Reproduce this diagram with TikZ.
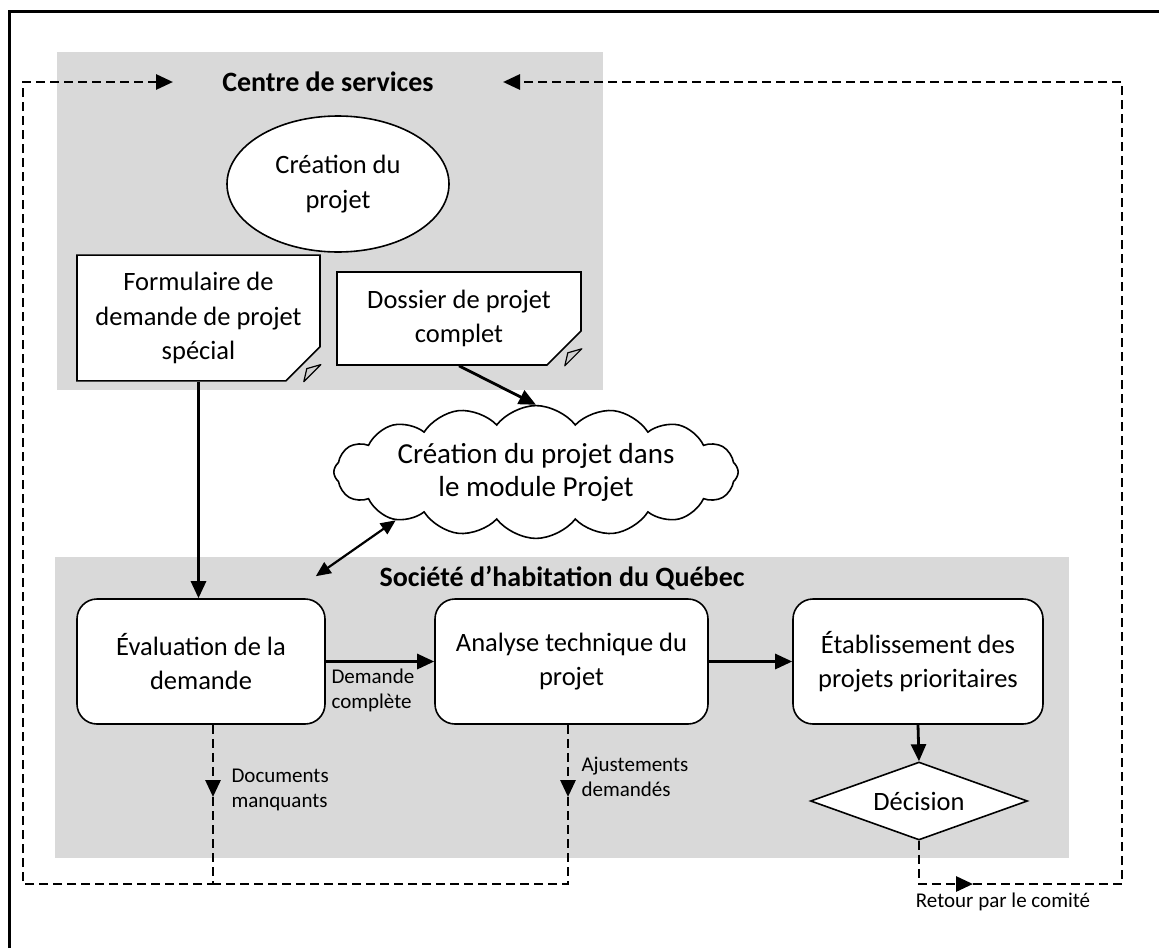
\documentclass[tikz,border=0pt]{standalone}
\usepackage{fontspec}
\setmainfont{Carlito}
\usetikzlibrary{shapes.geometric,shapes.symbols,shapes.misc,arrows.meta,calc,positioning}

\definecolor{zonegray}{HTML}{D9D9D9}
\definecolor{flapgray}{HTML}{D0D0D0}

\begin{document}
\begin{tikzpicture}[x=1pt, y=-1pt,
    txt/.style={font=\fontsize{26.5}{34.5}\selectfont, align=center},
    small/.style={font=\fontsize{21}{25}\selectfont, align=left},
    heading/.style={font=\fontsize{28}{34}\selectfont\bfseries},
    shape line/.style={draw, fill=white, line width=1.6pt, inner sep=0pt},
    procbox/.style={txt, shape line, rounded corners=20pt, minimum height=125pt, minimum width=#1},
    docbox/.style={txt, shape line, chamfered rectangle, chamfered rectangle corners=south east, chamfered rectangle xsep=17pt, chamfered rectangle ysep=17pt},
    flap/.style={fill=flapgray, draw, line width=1.2pt, line join=round},
    arr/.style={-{Triangle[length=17pt,width=15pt]}},
    flow/.style={line width=2.8pt, arr},
    dashline/.style={line width=2.9pt, dash pattern=on 9pt off 5pt}
  ]
    \useasboundingbox (0,0) rectangle (1159,948);

    % Frame
    \draw[line width=3pt] (9,948) -- (9,11) -- (1159,11);

    % Zones
    \fill[zonegray] (57,52) rectangle (603,390);
    \fill[zonegray] (55,557) rectangle (1069,858);

    % Titles
    \node[heading] (csTitle) at (328,82) {Centre de services};
    \node[heading] (shqTitle) at (562,578) {Société d’habitation du Québec};

    % Centre de services
    \node[ellipse, txt, shape line, minimum width=222pt, minimum height=136pt] (creation) at (338,184) {Création du\\projet};
    \node[docbox, minimum width=243pt, minimum height=118pt] (form) at (198.5,318) {Formulaire de\\demande de projet\\spécial};
    \node[docbox, minimum width=244pt, minimum height=93pt] (doss) at (459,318.5) {Dossier de projet\\complet};

    % folded corners
    \draw[flap] ($(form.east |- form.south)+(-17,0)$) -- ($(form.east |- form.south)+(0,-17)$) -- ($(form.east |- form.south)+(-14,-13)$) -- cycle;
    \draw[flap] ($(doss.east |- doss.south)+(-17,0)$) -- ($(doss.east |- doss.south)+(0,-17)$) -- ($(doss.east |- doss.south)+(-14,-13)$) -- cycle;

    % Module Projet
    \node[cloud, txt, font=\fontsize{29}{33}\selectfont, shape line, cloud puffs=16, cloud puff arc=105, aspect=4.2, inner sep=4pt] (module) at (536,472) {Création du projet dans\\le module Projet};

    % Societe d'habitation du Quebec
    \node[procbox=248pt] (eval) at (201,661.5) {Évaluation de la\\demande};
    \node[procbox=273pt] (anal) at (571.5,661.5) {Analyse technique du\\projet};
    \node[procbox=250pt] (etab) at (918,661.5) {Établissement des\\projets prioritaires};
    \node[diamond, txt, shape line, aspect=2.8, minimum width=217pt, minimum height=78pt] (decision) at (919,801) {Décision};

    % Solid connectors
    \draw[flow] (form.south) -- (form.south |- eval.north);
    \draw[flow] (doss.south) -- (module.north);
    \draw[line width=2.2pt, {Triangle[length=15pt,width=13pt]}-{Triangle[length=15pt,width=13pt]}] (module.199) -- ($(eval.north east)+(-10,-22)$);
    \draw[flow] (eval.east) -- (anal.west);
    \draw[flow] (anal.east) -- (etab.west);
    \draw[flow] (etab.south) -- (decision.north);

    \node[small, anchor=west] (complete) at (328,690) {Demande\\complète};

    % Return loops
    \coordinate (dmTip) at (213,797);
    \coordinate (ajTip) at (568,797);
    \coordinate (leftLow) at (23,884);
    \coordinate (leftTop) at (23,82);
    \coordinate (csIn) at (173,82);
    \coordinate (rcTip) at (973,884);
    \coordinate (rightLow) at (1122,884);
    \coordinate (rightTop) at (1122,82);
    \coordinate (csBack) at (503,82);

    \draw[dashline, arr] (dmTip |- eval.south) -- (dmTip);
    \draw[dashline, arr] (dmTip) -- (dmTip |- leftLow) -- (leftLow) -- (leftTop) -- (csIn);
    \draw[dashline, arr] (ajTip |- anal.south) -- (ajTip);
    \draw[dashline] (ajTip) -- (ajTip |- leftLow) -- (dmTip |- leftLow);
    \draw[dashline, arr] (decision.south) -- (decision.south |- rcTip) -- (rcTip);
    \draw[dashline, arr] (rcTip) -- (rightLow) -- (rightTop) -- (csBack);

    \node[small, anchor=west] (docs) at (228,790) {Documents\\manquants};
    \node[small, anchor=west] (ajust) at (578,777) {Ajustements\\demandés};
    \node[small] (retour) at (1003,902) {Retour par le comité};

\end{tikzpicture}
\end{document}
